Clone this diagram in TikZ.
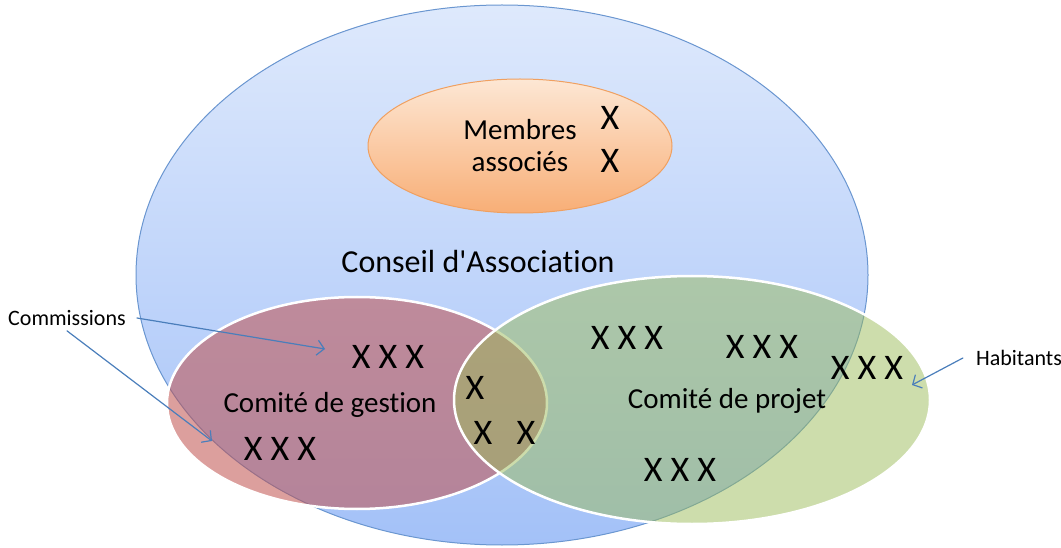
\documentclass[tikz,border=0pt]{standalone}
\usepackage{fontspec}
\setmainfont{Carlito}[Ligatures=NoCommon]
\usetikzlibrary{arrows.meta}
\definecolor{conseilhaut}{HTML}{DEE9FC}
\definecolor{conseilbas}{HTML}{A3C1F8}
\definecolor{conseilbord}{HTML}{6A96D0}
\definecolor{membreshaut}{HTML}{FDE7D4}
\definecolor{membresbas}{HTML}{F8AE76}
\definecolor{membresbord}{HTML}{F0A060}
\definecolor{gestion}{HTML}{C0504D}
\definecolor{projet}{HTML}{9BBB59}
\definecolor{fleche}{HTML}{4A7EBB}
\tikzset{
	texte/.style={font=\fontsize{29}{32}\selectfont, align=center, inner sep=2pt},
	croix/.style={font=\fontsize{36}{40}\selectfont, inner sep=0pt},
	petit/.style={font=\fontsize{22}{26}\selectfont, inner sep=3pt},
	fleche/.style={->, draw=fleche, line width=1.2pt}
}
\begin{document}
\begin{tikzpicture}[x=1pt, y=-1pt, line cap=round, line join=round, >={Straight Barb[length=7pt,width=15pt]}]
	\useasboundingbox (0,0) rectangle (1061,548);
	% les ensembles
	\draw[conseilbord, line width=1pt, top color=conseilhaut, bottom color=conseilbas] (502,275) coordinate (conseil) ellipse [x radius=366pt, y radius=270pt];
	\draw[membresbord, line width=1pt, top color=membreshaut, bottom color=membresbas] (520,146) coordinate (associes) ellipse [x radius=152pt, y radius=67pt];
	\draw[white, line width=2.5pt, fill=gestion, fill opacity=0.55] (357,403) coordinate (gestion) ellipse [x radius=190pt, y radius=106pt];
	\draw[white, line width=2.5pt, fill=projet, fill opacity=0.5] (692,400) coordinate (projet) ellipse [x radius=238pt, y radius=124pt];
	% textes
	\node[texte] (membres) at (520,146) {Membres\\associés};
	\node[croix] (xa) at (610,118) {X};
	\node[croix] (xb) at (610,161) {X};
	\node[texte, font=\fontsize{32}{36}\selectfont] (nconseil) at (478,262) {Conseil d\textquotesingle Association};
	\node[texte] (ngestion) at (330,405) {Comité de gestion};
	\node[croix] (xc) at (388,357) {X X X};
	\node[croix] (xd) at (280,449) {X X X};
	\node[croix] (xe) at (475,388) {X};
	\node[croix] (xf) at (483,433) {X};
	\node[croix] (xg) at (526,433) {X};
	\node[texte] (nprojet) at (727,401) {Comité de projet};
	\node[croix] (xh) at (627,338) {X X X};
	\node[croix] (xi) at (762,347) {X X X};
	\node[croix] (xj) at (867,368) {X X X};
	\node[croix] (xk) at (680,470) {X X X};
	\node[petit] (commissions) at (67,318) {Commissions};
	\node[petit] (habitants) at (1019,358) {Habitants};
	% fleches
	\coordinate (versgestion) at (325,349);
	\coordinate (verscommission) at (212,441);
	\coordinate (vershabitants) at (912,385);
	\draw[fleche] ([xshift=8pt]commissions.east) -- (versgestion);
	\draw[fleche] ([yshift=-2pt]commissions.south) -- (verscommission);
	\draw[fleche] ([xshift=-10pt]habitants.west) -- (vershabitants);
\end{tikzpicture}
\end{document}
